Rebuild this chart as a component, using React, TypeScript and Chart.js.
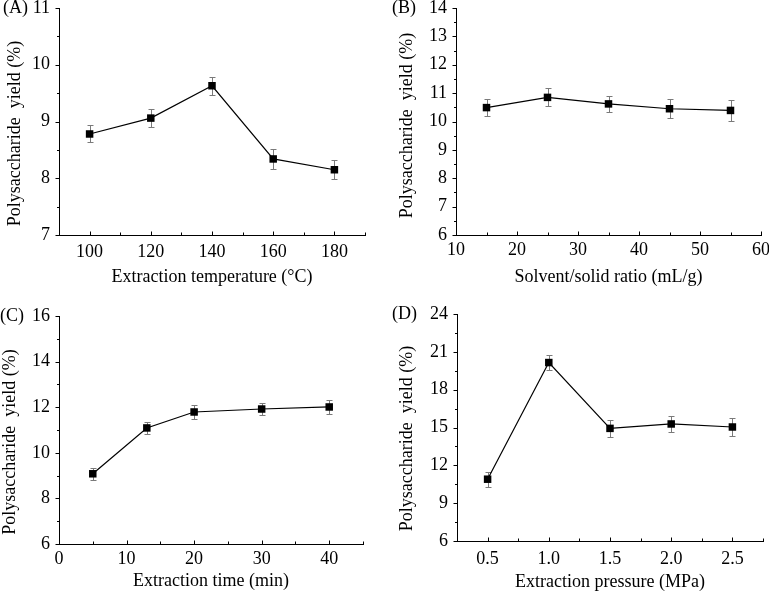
import React, { useEffect, useRef } from "react";
import { Chart, registerables } from "chart.js";

Chart.register(...registerables);

// ---- Data ----
const tempX = [100, 120, 140, 160, 180];
const tempY = [8.78, 9.06, 9.63, 8.34, 8.15];
const tempErr = [0.15, 0.16, 0.16, 0.18, 0.17];

const ratioX = [15, 25, 35, 45, 55];
const ratioY = [10.49, 10.85, 10.62, 10.45, 10.39];
const ratioErr = [0.3, 0.32, 0.28, 0.34, 0.36];

const timeX = [5, 13, 20, 30, 40];
const timeY = [9.08, 11.09, 11.79, 11.92, 12.01];
const timeErr = [0.26, 0.26, 0.29, 0.28, 0.31];

const pressX = [0.5, 1.0, 1.5, 2.0, 2.5];
const pressY = [10.9, 20.15, 14.93, 15.28, 15.04];
const pressErr = [0.61, 0.61, 0.65, 0.64, 0.68];

// ---- Tick labels ----
const tempXTicks = [100, 120, 140, 160, 180];
const tempYTicks = [7, 8, 9, 10, 11];
const ratioXTicks = [10, 20, 30, 40, 50, 60];
const ratioYTicks = [6, 7, 8, 9, 10, 11, 12, 13, 14];
const timeXTicks = [0, 10, 20, 30, 40];
const timeYTicks = [6, 8, 10, 12, 14, 16];
const pressXTicks = [0.5, 1.0, 1.5, 2.0, 2.5];
const pressYTicks = [6, 9, 12, 15, 18, 21, 24];

const yTitle = "Polysaccharide  yield (%)";
const FONT_FAMILY = '"Liberation Serif", "Times New Roman", serif';
const FONT_SIZE = 18;

type PanelCfg = {
  label: string;
  xs: number[];
  ys: number[];
  errs: number[];
  xMin: number;
  xMax: number;
  xMinorStep: number;
  yMin: number;
  yMax: number;
  yMinorStep: number;
  xTicks: number[];
  yTicks: number[];
  xDecimals: number;
  xTitle: string;
  left: number;
  top: number;
  yW: number;
  padTop: number;
  xH: number;
  padRight: number;
  xTickPad: number;
  xTitlePad: number;
  yTitleX: number;
  yTitleShift: number;
  labelX: number;
  labelY: number;
};

const panels: PanelCfg[] = [
  {
    label: "(A)", xs: tempX, ys: tempY, errs: tempErr,
    xMin: 90, xMax: 190, xMinorStep: 10, yMin: 7, yMax: 11, yMinorStep: 0.5,
    xTicks: tempXTicks, yTicks: tempYTicks, xDecimals: 0,
    xTitle: "Extraction temperature (°C)",
    left: 0, top: 0, yW: 59, padTop: 8, xH: 61, padRight: 19,
    xTickPad: 6.8, xTitlePad: 7.8, yTitleX: 15, yTitleShift: 12, labelX: 3, labelY: 8,
  },
  {
    label: "(B)", xs: ratioX, ys: ratioY, errs: ratioErr,
    xMin: 10, xMax: 60, xMinorStep: 5, yMin: 6, yMax: 14, yMinorStep: 0.5,
    xTicks: ratioXTicks, yTicks: ratioYTicks, xDecimals: 0,
    xTitle: "Solvent/solid ratio (mL/g)",
    left: 385, top: 0, yW: 71, padTop: 8, xH: 61, padRight: 8,
    xTickPad: 4.5, xTitlePad: 7.8, yTitleX: 22, yTitleShift: 4, labelX: 7, labelY: 8,
  },
  {
    label: "(C)", xs: timeX, ys: timeY, errs: timeErr,
    xMin: 0, xMax: 45, xMinorStep: 5, yMin: 6, yMax: 16, yMinorStep: 1,
    xTicks: timeXTicks, yTicks: timeYTicks, xDecimals: 0,
    xTitle: "Extraction time (min)",
    left: 0, top: 296, yW: 59, padTop: 20, xH: 48, padRight: 21,
    xTickPad: 4.8, xTitlePad: 0.2, yTitleX: 10, yTitleShift: 12, labelX: 0, labelY: 20,
  },
  {
    label: "(D)", xs: pressX, ys: pressY, errs: pressErr,
    xMin: 0.25, xMax: 2.75, xMinorStep: 0.25, yMin: 6, yMax: 24, yMinorStep: 1.5,
    xTicks: pressXTicks, yTicks: pressYTicks, xDecimals: 1,
    xTitle: "Extraction pressure (MPa)",
    left: 385, top: 296, yW: 72, padTop: 18, xH: 51, padRight: 6,
    xTickPad: 7.3, xTitlePad: -0.7, yTitleX: 22, yTitleShift: 11, labelX: 7, labelY: 18,
  },
];

function minorValues(min: number, max: number, step: number): number[] {
  const out: number[] = [];
  const n = Math.round((max - min) / step);
  for (let i = 0; i <= n; i++) out.push(min + i * step);
  return out;
}

const decorPlugin = {
  id: "decor",
  beforeDatasetsDraw(chart: any, _args: any, opts: any) {
    const { ctx } = chart;
    const xs = chart.scales.x;
    const ys = chart.scales.y;
    const data = chart.data.datasets[0].data as { x: number; y: number }[];
    ctx.save();
    ctx.strokeStyle = "#7a7a7a";
    ctx.lineWidth = 1;
    data.forEach((p, i) => {
      const e = opts.errs[i];
      const x = Math.round(xs.getPixelForValue(p.x)) + 0.5;
      const yt = Math.round(ys.getPixelForValue(p.y + e)) + 0.5;
      const yb = Math.round(ys.getPixelForValue(p.y - e)) + 0.5;
      ctx.beginPath();
      ctx.moveTo(x, yt);
      ctx.lineTo(x, yb);
      ctx.moveTo(x - 3, yt);
      ctx.lineTo(x + 3, yt);
      ctx.moveTo(x - 3, yb);
      ctx.lineTo(x + 3, yb);
      ctx.stroke();
    });
    ctx.restore();
  },
  afterDraw(chart: any, _args: any, opts: any) {
    const { ctx, chartArea } = chart;
    const xs = chart.scales.x;
    const ys = chart.scales.y;
    ctx.save();
    ctx.strokeStyle = "#000";
    ctx.lineWidth = 1;
    ctx.beginPath();
    const ax = Math.round(chartArea.left) + 0.5;
    const ay = Math.round(chartArea.bottom) + 0.5;
    // y ticks (outward, left)
    opts.yMinor.forEach((v: number) => {
      const y = Math.round(ys.getPixelForValue(v)) + 0.5;
      const major = opts.yMajor.some((m: number) => Math.abs(m - v) < 1e-6);
      ctx.moveTo(ax, y);
      ctx.lineTo(ax - (major ? 4 : 2.5), y);
    });
    // x ticks (inward, up)
    opts.xMinor.forEach((v: number) => {
      const x = Math.round(xs.getPixelForValue(v)) + 0.5;
      const major = opts.xMajor.some((m: number) => Math.abs(m - v) < 1e-6);
      ctx.moveTo(x, ay);
      ctx.lineTo(x, ay - (major ? 4 : 3));
    });
    ctx.stroke();
    ctx.fillStyle = "#000";
    ctx.font = `${FONT_SIZE}px ${FONT_FAMILY}`;
    // y axis title
    ctx.save();
    ctx.translate(opts.yTitleX, (chartArea.top + chartArea.bottom) / 2 + opts.yTitleShift);
    ctx.rotate(-Math.PI / 2);
    ctx.textAlign = "center";
    ctx.textBaseline = "middle";
    ctx.fillText(opts.yTitle, 0, 0);
    ctx.restore();
    // panel label
    ctx.textAlign = "left";
    ctx.textBaseline = "middle";
    ctx.fillText(opts.label, opts.labelX, opts.labelY);
    ctx.restore();
  },
};

function Panel({ cfg }: { cfg: PanelCfg }) {
  const ref = useRef<HTMLCanvasElement>(null);
  useEffect(() => {
    if (!ref.current) return;
    const font = { family: FONT_FAMILY, size: FONT_SIZE };
    const points = cfg.xs.map((x, i) => ({ x, y: cfg.ys[i] }));
    const chart = new Chart(ref.current, {
      type: "line",
      data: {
        datasets: [
          {
            data: points,
            borderColor: "#000",
            borderWidth: 1.2,
            backgroundColor: "#000",
            pointStyle: "rect",
            pointRadius: 5.3,
            pointBorderWidth: 0,
            pointBackgroundColor: "#000",
            tension: 0,
          },
        ],
      },
      options: {
        responsive: false,
        animation: false,
        layout: { padding: { left: 0, top: cfg.padTop, right: cfg.padRight, bottom: 0 } },
        plugins: {
          legend: { display: false },
          tooltip: { enabled: false },
          decor: {
            errs: cfg.errs,
            xMajor: cfg.xTicks,
            yMajor: cfg.yTicks,
            xMinor: minorValues(cfg.xMin, cfg.xMax, cfg.xMinorStep),
            yMinor: minorValues(cfg.yMin, cfg.yMax, cfg.yMinorStep),
            label: cfg.label,
            labelX: cfg.labelX,
            labelY: cfg.labelY,
            yTitle,
            yTitleX: cfg.yTitleX,
            yTitleShift: cfg.yTitleShift,
          },
        } as any,
        scales: {
          x: {
            type: "linear",
            min: cfg.xMin,
            max: cfg.xMax,
            afterBuildTicks: (s: any) => {
              s.ticks = cfg.xTicks.map((v) => ({ value: v }));
            },
            afterFit: (s: any) => {
              s.height = cfg.xH;
              s.paddingLeft = 0;
              s.paddingRight = 0;
            },
            grid: { display: false, drawTicks: false },
            border: { display: true, color: "#000", width: 1 },
            ticks: {
              color: "#000",
              font,
              padding: cfg.xTickPad,
              maxRotation: 0,
              autoSkip: false,
              callback: (v: any) => Number(v).toFixed(cfg.xDecimals),
            },
            title: {
              display: true,
              text: cfg.xTitle,
              color: "#000",
              font,
              padding: { top: 0, bottom: cfg.xTitlePad },
            },
          },
          y: {
            type: "linear",
            min: cfg.yMin,
            max: cfg.yMax,
            afterBuildTicks: (s: any) => {
              s.ticks = cfg.yTicks.map((v) => ({ value: v }));
            },
            afterFit: (s: any) => {
              s.width = cfg.yW;
              s.paddingTop = 0;
              s.paddingBottom = 0;
            },
            grid: { display: false, drawTicks: false },
            border: { display: true, color: "#000", width: 1 },
            ticks: {
              color: "#000",
              font,
              padding: 9,
              autoSkip: false,
              callback: (v: any) => String(v),
            },
            title: { display: false },
          },
        },
      },
      plugins: [decorPlugin as any],
    });
    return () => chart.destroy();
  }, [cfg]);
  return (
    <canvas
      ref={ref}
      width={384}
      height={296}
      style={{ position: "absolute", left: cfg.left, top: cfg.top, width: 384, height: 296, display: "block" }}
    />
  );
}

export default function App() {
  return (
    <div style={{ position: "absolute", left: 0, top: 0, width: 769, height: 592, background: "#fff", overflow: "hidden" }}>
      {panels.map((p) => (
        <Panel key={p.label} cfg={p} />
      ))}
    </div>
  );
}
